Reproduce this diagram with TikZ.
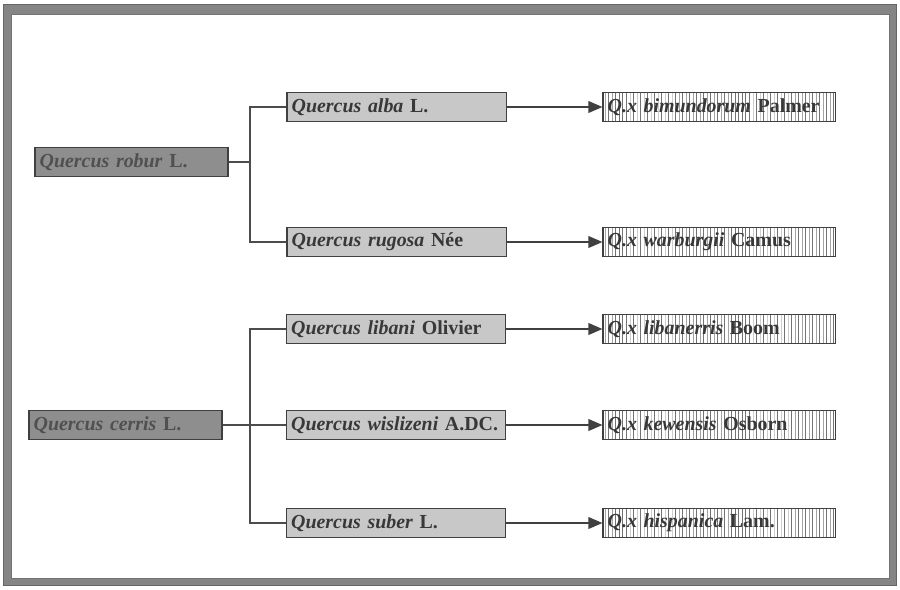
\documentclass[tikz,border=0pt]{standalone}
\usepackage{fontspec}
\setmainfont{Liberation Serif}[BoldItalicFont={Liberation Serif Bold Italic}]
\usetikzlibrary{arrows.meta,patterns}

\definecolor{framegray}{HTML}{858585}
\definecolor{parentgray}{HTML}{8E8E8E}
\definecolor{parenttext}{HTML}{505050}
\definecolor{speciesgray}{HTML}{C8C8C8}
\definecolor{speciestext}{HTML}{383838}
\definecolor{hybridtext}{HTML}{383838}

\tikzset{
  oakbox/.style={draw=black!75, line width=0.9pt, minimum height=0.87cm,
    inner xsep=4pt, align=left, font=\fontsize{17}{19}\selectfont\bfseries},
  parentbox/.style={oakbox, fill=parentgray, text=parenttext, text width=5.51cm},
  speciesbox/.style={oakbox, fill=speciesgray, text=speciestext, text width=6.29cm},
  hybridbox/.style={oakbox, text=hybridtext, text width=6.68cm,
    preaction={fill=white}, pattern=vertical lines, pattern color=black!55},
  branch/.style={line width=1.3pt, black!70},
  cross/.style={line width=1.3pt, black!75, -{Triangle[length=12pt,width=10pt]}}
}

\begin{document}
\begin{tikzpicture}[x=0.03cm, y=-0.03cm]
  \useasboundingbox (0,0) rectangle (900,589);

  % frame
  \fill[framegray] (3,4) rectangle (896,585);
  \draw[black!60, line width=0.8pt] (3,4) rectangle (896,585);
  \fill[white] (11,14) rectangle (889,578);
  \draw[black!55, line width=0.6pt] (11,14) rectangle (889,578);

  % Quercus robur (top)
  \node[parentbox] (robur) at (131.5,162) {\textit{Quercus robur} L.};
  \node[speciesbox] (alba) at (396.5,107) {\textit{Quercus alba} L.};
  \node[speciesbox] (rugosa) at (396.5,242) {\textit{Quercus rugosa} Née};
  \node[hybridbox] (bimund) at (719,107) {\textit{Q.x bimundorum} Palmer};
  \node[hybridbox] (warburg) at (719,242) {\textit{Q.x warburgii} Camus};
  \coordinate (jrobur) at (250,162);
  \draw[branch] (robur.east) -- (jrobur);
  \draw[branch] (jrobur) |- (alba.west);
  \draw[branch] (jrobur) |- (rugosa.west);
  \draw[cross] (alba.east) -- (bimund.west);
  \draw[cross] (rugosa.east) -- (warburg.west);

  % Quercus cerris (bottom)
  \node[parentbox] (cerris) at (125.5,425) {\textit{Quercus cerris} L.};
  \node[speciesbox] (libani) at (396,329) {\textit{Quercus libani} Olivier};
  \node[speciesbox] (wisliz) at (396,425) {\textit{Quercus wislizeni} A.DC.};
  \node[speciesbox] (suber) at (396,523) {\textit{Quercus suber} L.};
  \node[hybridbox] (libaner) at (719,329) {\textit{Q.x libanerris} Boom};
  \node[hybridbox] (kewens) at (719,425) {\textit{Q.x kewensis} Osborn};
  \node[hybridbox] (hispan) at (719,523) {\textit{Q.x hispanica} Lam.};
  \coordinate (jcerris) at (250,425);
  \draw[branch] (cerris.east) -- (wisliz.west);
  \draw[branch] (jcerris) |- (libani.west);
  \draw[branch] (jcerris) |- (suber.west);
  \draw[cross] (libani.east) -- (libaner.west);
  \draw[cross] (wisliz.east) -- (kewens.west);
  \draw[cross] (suber.east) -- (hispan.west);
\end{tikzpicture}
\end{document}
